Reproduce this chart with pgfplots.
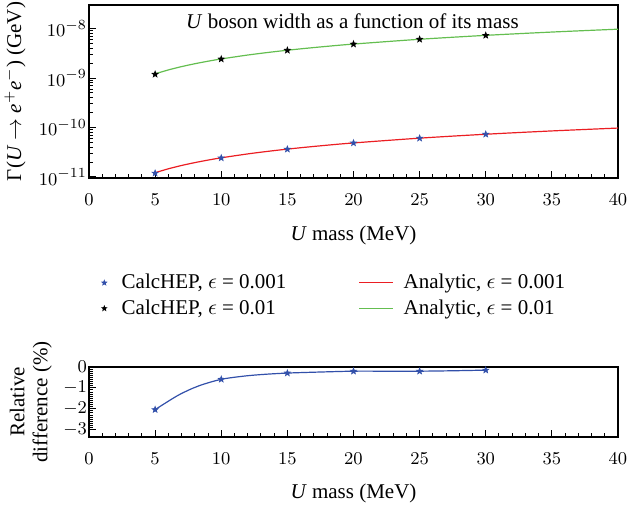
\documentclass[border=0pt]{standalone}
\usepackage{fontspec}
\setmainfont{Liberation Serif}
\usepackage{pgfplots}
\pgfplotsset{compat=1.18}
\definecolor{cblue}{RGB}{50,80,170}
\definecolor{cred}{RGB}{235,30,35}
\definecolor{cgreen}{RGB}{100,190,80}
\pgfdeclareplotmark{fstar}{%
 \pgfpathmoveto{\pgfpointpolar{90}{\pgfplotmarksize}}%
 \pgfpathlineto{\pgfpointpolar{126}{0.42\pgfplotmarksize}}%
 \pgfpathlineto{\pgfpointpolar{162}{\pgfplotmarksize}}%
 \pgfpathlineto{\pgfpointpolar{198}{0.42\pgfplotmarksize}}%
 \pgfpathlineto{\pgfpointpolar{234}{\pgfplotmarksize}}%
 \pgfpathlineto{\pgfpointpolar{270}{0.42\pgfplotmarksize}}%
 \pgfpathlineto{\pgfpointpolar{306}{\pgfplotmarksize}}%
 \pgfpathlineto{\pgfpointpolar{342}{0.42\pgfplotmarksize}}%
 \pgfpathlineto{\pgfpointpolar{18}{\pgfplotmarksize}}%
 \pgfpathlineto{\pgfpointpolar{54}{0.42\pgfplotmarksize}}%
 \pgfpathclose\pgfusepathqfillstroke}
\pgfplotsset{
  starleg/.style={legend image code/.code={\path (-2pt,0pt) (6.5pt,0pt); \draw[##1] plot coordinates {(0pt,0pt)};}},
  lineleg/.style={legend image code/.code={\draw[##1] (0pt,0pt) -- (17pt,0pt); \path (20pt,0pt);}},
  common/.style={
    scale only axis, width=264.5pt,
    xmin=0, xmax=40, xtick={0,5,...,40}, minor x tick num=4,
    xtick pos=bottom, ytick pos=left, tick align=inside,
    major tick length=3.5pt, minor tick length=2pt,
    axis line style={line width=0.8pt},
    every tick/.style={black, line width=0.5pt},
    tick label style={font=\fontsize{9.5}{10}\selectfont},
    xticklabel style={yshift=-4.5pt},
    yticklabel style={xshift=2.5pt},
    label style={font=\fontsize{10.5}{11.5}\selectfont},
  }
}
\begin{document}
\begin{tikzpicture}
\path[use as bounding box] (-44.5pt,-163pt) rectangle (271pt,89pt);
\begin{axis}[common,
  at={(0pt,0pt)}, anchor=south west, height=86.5pt,
  ymode=log, ymin=9.5e-12, ymax=3e-8,
  ytick={1e-11,1e-10,1e-9,1e-8},
  xlabel={\textit{U} mass (MeV)},
  x label style={at={(axis description cs:0.5,-0.33)}, anchor=center},
  ylabel={Γ(\textit{U} $\rightarrow$ \textit{e}$^{+}$\textit{e}$^{-}$) (GeV)},
  y label style={at={(axis description cs:-0.14,0.5)}, anchor=center},
  legend columns=2, legend cell align=left,
  legend style={draw=none, fill=none, at={(axis description cs:0.464,-0.68)}, anchor=center,
    font=\fontsize{10.5}{11.5}\selectfont, row sep=3pt,
    nodes={inner ysep=0.5pt},
    /tikz/every even column/.append style={column sep=34pt}},
]
\addlegendimage{only marks, mark=fstar, cblue, mark size=1.2pt, starleg}
\addlegendentry{CalcHEP, $\epsilon$ = 0.001}
\addlegendimage{cred, line width=0.6pt, lineleg}
\addlegendentry{Analytic, $\epsilon$ = 0.001}
\addlegendimage{only marks, mark=fstar, black, mark size=1.2pt, starleg}
\addlegendentry{CalcHEP, $\epsilon$ = 0.01}
\addlegendimage{cgreen, line width=0.6pt, lineleg}
\addlegendentry{Analytic, $\epsilon$ = 0.01}
\addplot[cred, line width=0.6pt, smooth, forget plot] coordinates {
 (5,1.2154e-11) (6,1.4590e-11) (7,1.7026e-11) (8,1.9459e-11) (9,2.1892e-11) (10,2.4324e-11)
 (12,2.9190e-11) (14,3.4055e-11) (16,3.8920e-11) (18,4.3785e-11) (20,4.8650e-11)
 (25,6.0812e-11) (30,7.2975e-11) (35,8.5137e-11) (40,9.7300e-11)};
\addplot[cgreen, line width=0.6pt, smooth, forget plot] coordinates {
 (5,1.2154e-9) (6,1.4590e-9) (7,1.7026e-9) (8,1.9459e-9) (9,2.1892e-9) (10,2.4324e-9)
 (12,2.9190e-9) (14,3.4055e-9) (16,3.8920e-9) (18,4.3785e-9) (20,4.8650e-9)
 (25,6.0812e-9) (30,7.2975e-9) (35,8.5137e-9) (40,9.7300e-9)};
\addplot[only marks, mark=fstar, cblue, mark size=1.5pt, forget plot] coordinates {
 (5,1.190e-11) (10,2.418e-11) (15,3.638e-11) (20,4.855e-11) (25,6.069e-11) (30,7.287e-11)};
\addplot[only marks, mark=fstar, black, mark size=1.5pt, forget plot] coordinates {
 (5,1.190e-9) (10,2.418e-9) (15,3.638e-9) (20,4.855e-9) (25,6.069e-9) (30,7.287e-9)};
\node[anchor=base, font=\fontsize{10.5}{12}\selectfont] at (rel axis cs:0.498,0.867) {\textit{U} boson width as a function of its mass};
\end{axis}
\begin{axis}[common,
  at={(0pt,-94.5pt)}, anchor=north west, height=35pt,
  ymin=-3.35, ymax=0, ytick={-3,-2,-1,0}, minor y tick num=9,
  xlabel={\textit{U} mass (MeV)},
  x label style={at={(axis description cs:0.5,-0.80)}, anchor=center},
  ylabel={Relative\\difference (\%)},
  y label style={align=center, at={(axis description cs:-0.11,0.5)}, anchor=center},
]
\addplot[cblue, line width=0.6pt, smooth, tension=0.5] coordinates {
 (5,-2.04) (6.75,-1.35) (8.27,-0.91) (10,-0.59) (11.8,-0.43) (13.3,-0.35) (15,-0.29)
 (17.5,-0.24) (20,-0.2) (22.5,-0.2) (25,-0.2) (27.5,-0.18) (30,-0.15)};
\addplot[only marks, cblue, mark=fstar, mark size=1.5pt] coordinates {
 (5,-2.04) (10,-0.59) (15,-0.29) (20,-0.2) (25,-0.2) (30,-0.15)};
\end{axis}
\end{tikzpicture}
\end{document}
